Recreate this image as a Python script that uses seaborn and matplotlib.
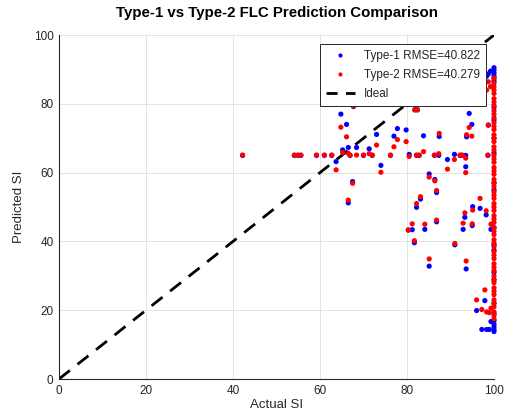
import matplotlib
matplotlib.use("Agg")
import matplotlib.pyplot as plt
from matplotlib.lines import Line2D
import seaborn as sns
import pandas as pd

# ---- data ----
# off-column points: actual SI, Type-1 prediction, Type-2 prediction
actual_off = [42.2, 54.1, 54.9, 55.6, 59.2, 61.0, 62.7,
              63.7, 64.8, 65.2, 66.1, 66.5, 66.5, 67.5, 67.7, 66.9, 68.4, 70.0,
              71.3, 73.0, 72.0, 74.0, 76.2, 77.0, 77.8, 79.8, 80.5, 81.8, 82.4,
              82.2, 82.8, 83.8, 85.1, 86.4, 86.8, 82.2, 83.1, 80.3, 81.2, 81.7,
              84.1, 85.1, 86.8, 87.4, 86.3, 87.3, 89.3, 90.9, 91.0, 92.2, 92.7,
              93.5, 94.3, 94.9, 93.7, 93.5, 96.8, 95.1, 93.3, 92.9, 95.0, 98.2,
              98.7, 98.6, 99.3, 93.6, 97.9, 96.0, 97.2, 98.3, 98.9, 99.3, 98.7,
              98.3, 99.2]
type1_off = [65.0, 65.0, 65.0, 65.0, 65.0, 65.0, 65.0,
             63.2, 77.0, 66.6, 74.0, 51.2, 67.3, 57.4, 79.2, 65.0, 67.3, 65.0,
             66.9, 71.1, 65.0, 62.1, 65.0, 70.6, 72.8, 72.4, 65.3, 78.3, 78.3,
             65.0, 65.0, 70.7, 59.6, 58.0, 54.2, 49.9, 52.3, 43.3, 43.4, 39.6,
             43.5, 32.8, 45.7, 70.5, 65.0, 65.0, 63.8, 65.3, 39.0, 65.0, 65.0,
             65.0, 77.2, 74.0, 70.4, 61.7, 49.6, 50.1, 47.0, 43.5, 44.6, 47.7,
             73.8, 65.0, 43.5, 32.0, 22.8, 19.9, 14.4, 14.4, 14.4, 16.7, 88.7,
             88.0, 89.5]
type2_off = [65.1, 65.1, 65.1, 65.1, 65.1, 65.1, 65.1,
             60.8, 73.2, 65.8, 70.4, 52.0, 65.6, 56.9, 79.4, 65.1, 65.1, 65.1,
             65.5, 68.0, 65.1, 60.1, 65.1, 67.5, 69.6, 69.0, 64.7, 78.2, 78.2,
             65.1, 65.1, 66.1, 58.7, 57.6, 54.8, 51.0, 53.0, 43.3, 45.1, 40.2,
             45.0, 34.9, 46.2, 71.4, 65.1, 65.5, 61.0, 63.8, 39.4, 65.1, 65.1,
             64.2, 73.1, 70.6, 71.0, 60.0, 52.5, 49.1, 48.3, 45.3, 45.1, 48.9,
             73.8, 65.1, 45.0, 34.3, 25.9, 23.0, 20.2, 19.5, 19.3, 20.6, 86.4,
             84.0, 85.0]

# points at actual SI = 100 (dense column)
type1_col = [90.5, 89.8, 89.0, 88.2, 87.4, 86.6, 79.0, 75.3, 70.0, 65.7,
             57.0, 55.0, 44.0, 39.0, 37.5, 31.0, 28.8, 22.0, 19.0, 17.0,
             16.0, 15.2, 14.4, 13.8]
type2_col = [87.5, 86.0, 85.0, 84.0, 83.0, 81.5, 80.5, 79.5, 78.0, 77.0,
             76.0, 74.5, 73.5, 72.5, 71.0, 70.0, 69.0, 67.5, 66.5, 65.0,
             64.0, 63.0, 61.5, 60.5, 59.5, 58.0, 57.0, 56.0, 54.5, 53.5,
             52.5, 51.0, 50.0, 49.0, 47.5, 46.5, 45.5, 44.0, 43.0, 42.0,
             40.5, 39.5, 38.5, 37.0, 36.0, 35.0, 33.5, 32.5, 31.5, 30.0,
             29.0, 28.0, 26.5, 25.5, 24.5, 23.0, 22.0, 21.0, 19.5, 18.5, 17.5]
col_actual = 100.0

labels = ["Type-1 RMSE=40.822", "Type-2 RMSE=40.279", "Ideal"]
ideal = [0, 100]
ticks = [0, 20, 40, 60, 80, 100]

# ---- build table ----
rows = []
for a, p in zip(actual_off, type1_off):
    rows.append((a, p, labels[0]))
for p in type1_col:
    rows.append((col_actual, p, labels[0]))
for a, p in zip(actual_off, type2_off):
    rows.append((a, p, labels[1]))
for p in type2_col:
    rows.append((col_actual, p, labels[1]))
df = pd.DataFrame(rows, columns=["Actual SI", "Predicted SI", "Model"])

sns.set_theme(style="white")
plt.rcParams["font.family"] = ["Liberation Sans", "DejaVu Sans"]

fig = plt.figure(figsize=(5.08, 4.19), dpi=100)
ax = fig.add_axes([59 / 508, 1 - 379 / 419, 435 / 508, 344 / 419])

colors = {labels[0]: "#0000ff", labels[1]: "#ff0000"}
sns.scatterplot(data=df, x="Actual SI", y="Predicted SI", hue="Model",
                palette=colors, s=14, linewidth=0, marker="o", ax=ax,
                clip_on=False, zorder=3, legend=False)
dash = (0, (5, 3.5))
sns.lineplot(x=ideal, y=ideal, ax=ax, color="black", linewidth=2,
             linestyle=dash, zorder=2, legend=False)

ax.set_xlim(0, 100)
ax.set_ylim(0, 100)
ax.set_xticks(ticks)
ax.set_yticks(ticks)
ax.grid(True, color="#e3e3e3", linewidth=0.7)
ax.set_axisbelow(True)
for s in ["top", "right"]:
    ax.spines[s].set_visible(False)
for s in ["left", "bottom"]:
    ax.spines[s].set_color("#262626")
    ax.spines[s].set_linewidth(0.8)
ax.tick_params(axis="both", labelsize=8.5, colors="#262626", direction="in",
               length=3, width=0.6, pad=4)
ax.set_xlabel("Actual SI", fontsize=9.5, color="#262626", labelpad=2)
ax.set_ylabel("Predicted SI", fontsize=9.5, color="#262626", labelpad=6)
ax.set_title("Type-1 vs Type-2 FLC Prediction Comparison", fontsize=10.8,
             fontweight="bold", color="black", pad=13)

handles = [
    Line2D([], [], linestyle="none", marker="o", markersize=3,
           markerfacecolor=colors[labels[0]], markeredgewidth=0),
    Line2D([], [], linestyle="none", marker="o", markersize=3,
           markerfacecolor=colors[labels[1]], markeredgewidth=0),
    Line2D([], [], color="black", linewidth=2, linestyle=(0, (4, 3))),
]
leg = ax.legend(handles, labels, loc="upper right",
                bbox_to_anchor=(1 - 8 / 435, 1 - 9 / 344),
                borderaxespad=0,
                fontsize=8.5, frameon=True, fancybox=False, framealpha=1,
                edgecolor="#262626", handlelength=2.4, borderpad=0.5,
                labelspacing=0.6, handletextpad=0.8)
leg.get_frame().set_linewidth(0.7)
leg.set_zorder(5)

fig.savefig("out.png", dpi=100)
